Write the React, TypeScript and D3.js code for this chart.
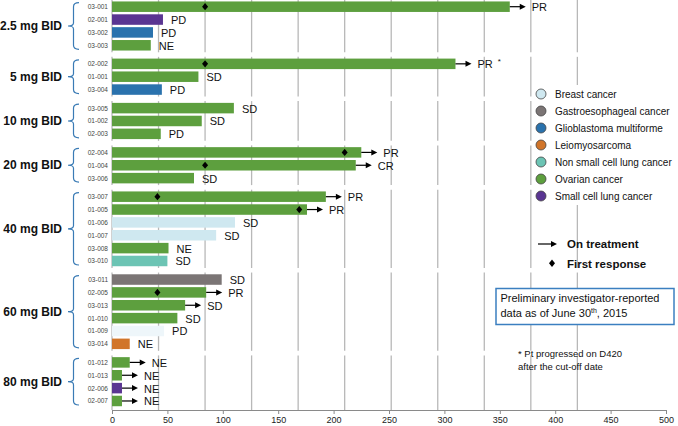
import React, { useEffect, useRef } from "react";
import * as d3 from "d3";

const doseGroups = ["2.5 mg BID", "5 mg BID", "10 mg BID", "20 mg BID", "40 mg BID", "60 mg BID", "80 mg BID"];

const patientIds = [
  "03-001", "02-001", "03-002", "03-003",
  "02-002", "01-001", "03-004",
  "03-005", "01-002", "02-003",
  "02-004", "01-004", "03-006",
  "03-007", "01-005", "01-006", "01-007", "03-008", "03-010",
  "03-011", "02-005", "03-013", "01-010", "01-009", "03-014",
  "01-012", "01-013", "02-006", "02-007",
];
const patientDose = [
  0, 0, 0, 0,
  1, 1, 1,
  2, 2, 2,
  3, 3, 3,
  4, 4, 4, 4, 4, 4,
  5, 5, 5, 5, 5, 5,
  6, 6, 6, 6,
];
const durationDays = [
  359, 46, 37, 35,
  310, 78, 45,
  110, 81, 44,
  225, 220, 74,
  193, 176, 111, 94, 51, 50,
  99, 85, 66, 59, 47, 16,
  16, 9, 9, 9,
];
const tumorType = [
  "Ovarian cancer", "Small cell lung cancer", "Glioblastoma multiforme", "Ovarian cancer",
  "Ovarian cancer", "Ovarian cancer", "Glioblastoma multiforme",
  "Ovarian cancer", "Ovarian cancer", "Ovarian cancer",
  "Ovarian cancer", "Ovarian cancer", "Ovarian cancer",
  "Ovarian cancer", "Ovarian cancer", "Breast cancer", "Breast cancer", "Ovarian cancer", "Non small cell lung cancer",
  "Gastroesophageal cancer", "Ovarian cancer", "Ovarian cancer", "Ovarian cancer", "Breast cancer", "Leiomyosarcoma",
  "Ovarian cancer", "Ovarian cancer", "Small cell lung cancer", "Ovarian cancer",
];
const fadedBar = [
  false, false, false, false,
  false, false, false,
  false, false, false,
  false, false, false,
  false, false, false, false, false, false,
  false, false, false, false, true, false,
  false, false, false, false,
];
const responseLabels = [
  "PR", "PD", "PD", "NE",
  "PR", "SD", "PD",
  "SD", "SD", "PD",
  "PR", "CR", "SD",
  "PR", "PR", "SD", "SD", "NE", "SD",
  "SD", "PR", "SD", "SD", "PD", "NE",
  "NE", "NE", "NE", "NE",
];
const onTreatment = [
  true, false, false, false,
  true, false, false,
  false, false, false,
  true, true, false,
  true, true, false, false, false, false,
  false, true, true, false, false, false,
  true, true, true, true,
];
const firstResponseDays: (number | null)[] = [
  84, null, null, null,
  84, null, null,
  null, null, null,
  210, 84, null,
  41, 169, null, null, null, null,
  null, 41, null, null, null, null,
  null, null, null, null,
];
const starred = ["02-002"];

const tumorTypes = [
  "Breast cancer", "Gastroesophageal cancer", "Glioblastoma multiforme", "Leiomyosarcoma",
  "Non small cell lung cancer", "Ovarian cancer", "Small cell lung cancer",
];
const tumorColors = ["#cfe8f0", "#7b7575", "#2a72ad", "#d1752a", "#6cc4b4", "#5d9f3e", "#5a3592"];
const fadedColor = "#eef6fa";

const xTicks = [0, 50, 100, 150, 200, 250, 300, 350, 400, 450, 500];
const cycleDays = [0, 42, 84, 126, 168, 210, 252, 294, 336, 378, 420];

const FONT = "'Liberation Sans', Arial, Helvetica, sans-serif";

export default function App() {
  const axisRef = useRef<SVGGElement>(null);

  const x = d3.scaleLinear().domain([0, 500]).range([112, 666]);
  const color = d3.scaleOrdinal<string, string>().domain(tumorTypes).range(tumorColors);
  const rowPitch = 12.86;
  const groupExtra = 5.7;
  const rowY = (i: number) => 6.7 + i * rowPitch + patientDose[i] * groupExtra;
  const barH = 10.5;
  const axisY = 410;

  useEffect(() => {
    if (!axisRef.current) return;
    const g = d3.select(axisRef.current);
    g.selectAll("*").remove();
    g.call(
      d3.axisBottom(x).tickValues(xTicks).tickSize(4).tickSizeOuter(0).tickPadding(3)
    );
    g.selectAll("path.domain").attr("stroke", "#8a8a8a").attr("stroke-width", 1);
    g.selectAll(".tick line").attr("stroke", "#8a8a8a");
    g.selectAll(".tick text").attr("font-size", 9).attr("font-family", FONT).attr("fill", "#222");
  }, []);

  const groupRanges = doseGroups.map((_, gi) => {
    const idx = patientDose.map((d, i) => (d === gi ? i : -1)).filter((i) => i >= 0);
    return { first: rowY(idx[0]), last: rowY(idx[idx.length - 1]) };
  });

  const arrowLen = 16;

  return (
    <svg
      width={678}
      height={426}
      style={{ position: "fixed", left: 0, top: 0, background: "#fff" }}
      fontFamily={FONT}
    >
      {/* gridlines per dose group */}
      {groupRanges.map((r, gi) => (
        <g key={"grid" + gi}>
          {cycleDays.map((d) => (
            <line
              key={d}
              x1={x(d)}
              x2={x(d)}
              y1={r.first - 7}
              y2={gi === doseGroups.length - 1 ? axisY : r.last + 7}
              stroke="#b8b8b8"
              strokeWidth={1.3}
            />
          ))}
        </g>
      ))}

      {/* braces and dose labels */}
      {groupRanges.map((r, gi) => {
        const yT = r.first - 4;
        const yB = r.last + 4;
        const yM = (yT + yB) / 2;
        const path = `M79,${yT} Q73.5,${yT} 73.5,${yT + 4} L73.5,${yM - 3} Q73.5,${yM} 68,${yM} Q73.5,${yM} 73.5,${yM + 3} L73.5,${yB - 4} Q73.5,${yB} 79,${yB}`;
        return (
          <g key={"brace" + gi}>
            <path d={path} fill="none" stroke="#3a7bb5" strokeWidth={1.2} />
            <text x={62} y={yM} textAnchor="end" dominantBaseline="central" fontSize={12} fontWeight="bold" fill="#111">
              {doseGroups[gi]}
            </text>
          </g>
        );
      })}

      {/* bars */}
      {patientIds.map((id, i) => {
        const y = rowY(i);
        const x0 = x(0);
        const x1 = x(durationDays[i]);
        const fill = fadedBar[i] ? fadedColor : color(tumorType[i]);
        const labelX = onTreatment[i] ? x1 + arrowLen + 6 : x1 + 8;
        const fr = firstResponseDays[i];
        return (
          <g key={id}>
            <text x={108} y={y} textAnchor="end" dominantBaseline="central" fontSize={6.5} fill="#444">
              {id}
            </text>
            <rect x={x0} y={y - barH / 2} width={x1 - x0} height={barH} fill={fill} />
            {onTreatment[i] && (
              <g>
                <line x1={x1} x2={x1 + arrowLen - 4} y1={y} y2={y} stroke="#000" strokeWidth={1.2} />
                <path d={`M${x1 + arrowLen},${y} L${x1 + arrowLen - 6},${y - 3} L${x1 + arrowLen - 6},${y + 3} Z`} fill="#000" />
              </g>
            )}
            {fr !== null && (
              <path
                d={`M${x(fr)},${y - 3.6} L${x(fr) + 3},${y} L${x(fr)},${y + 3.6} L${x(fr) - 3},${y} Z`}
                fill="#000"
              />
            )}
            <text x={labelX} y={y + 0.5} dominantBaseline="central" fontSize={11} fill="#111">
              {responseLabels[i]}
              {starred.includes(id) && (
                <tspan dx={5} dy={-3} fontSize={8}>
                  *
                </tspan>
              )}
            </text>
          </g>
        );
      })}

      {/* x axis */}
      <g ref={axisRef} transform={`translate(0,${axisY})`} />

      {/* tumor legend */}
      <rect x={535} y={85} width={143} height={120} fill="#fff" />
      {tumorTypes.map((t, k) => {
        const y = 94 + k * 17;
        return (
          <g key={t}>
            <circle cx={541} cy={y} r={5} fill={color(t)} stroke="#444" strokeWidth={0.8} />
            <text x={555} y={y} dominantBaseline="central" fontSize={10} fill="#111">
              {t}
            </text>
          </g>
        );
      })}

      {/* symbol legend */}
      <line x1={538} x2={551} y1={244} y2={244} stroke="#000" strokeWidth={1.2} />
      <path d="M557,244 L551,241 L551,247 Z" fill="#000" />
      <text x={567} y={244} dominantBaseline="central" fontSize={11.5} fontWeight="bold" fill="#111">
        On treatment
      </text>
      <path d="M552,259.5 L555,263.2 L552,267 L549,263.2 Z" fill="#000" />
      <text x={567} y={263.5} dominantBaseline="central" fontSize={11.5} fontWeight="bold" fill="#111">
        First response
      </text>

      {/* data note box */}
      <rect x={496} y={288.5} width={178} height={36} fill="#fff" stroke="#3b7fc0" strokeWidth={1.5} />
      <text x={500.5} y={302} fontSize={11} fill="#111">
        Preliminary investigator-reported
      </text>
      <text x={500.5} y={317} fontSize={11} fill="#111">
        data as of June 30
        <tspan fontSize={7} dy={-4}>
          th
        </tspan>
        <tspan dy={4}>, 2015</tspan>
      </text>

      {/* footnote */}
      <text x={518} y={357} fontSize={9.5} fill="#111">
        * Pt progressed on D420
      </text>
      <text x={518} y={369.5} fontSize={9.5} fill="#111">
        after the cut-off date
      </text>
    </svg>
  );
}
